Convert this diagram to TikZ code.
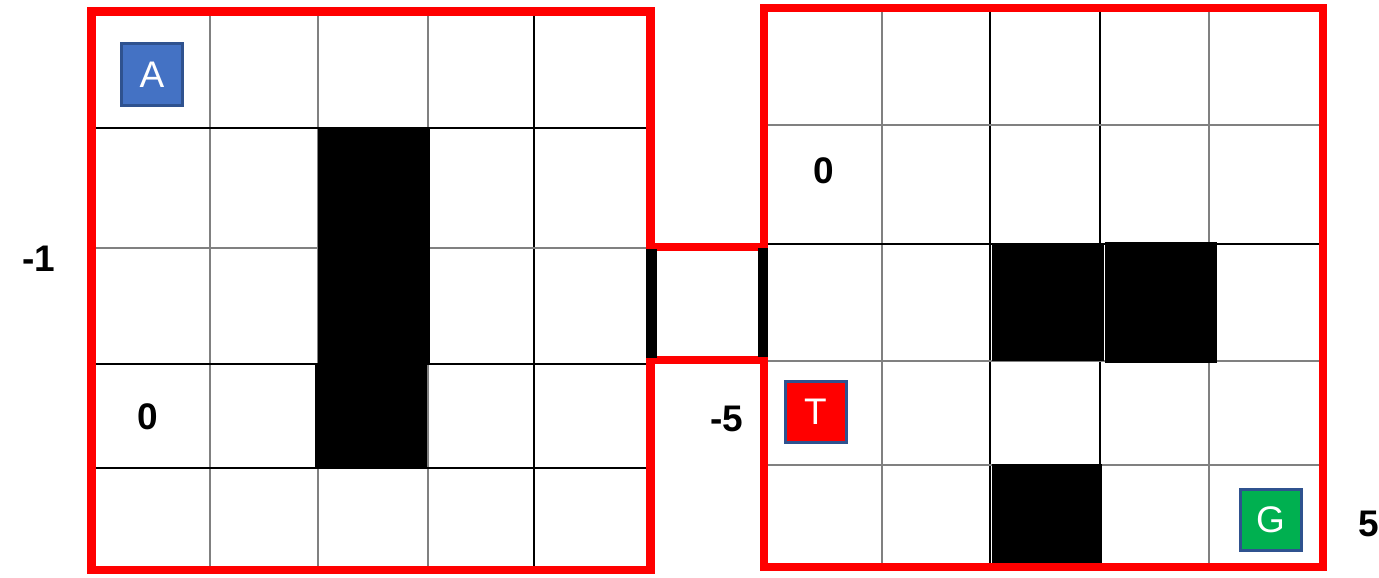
\documentclass[tikz,border=0pt]{standalone}
\usepackage{fontspec}
\setmainfont{Liberation Sans}
\definecolor{wallred}{HTML}{FF0000}
\definecolor{agentblue}{HTML}{4472C4}
\definecolor{edgeblue}{HTML}{2F528F}
\definecolor{goalgreen}{HTML}{00B050}
\begin{document}
\begin{tikzpicture}[x=1pt,y=-1pt,
  gline/.style={draw=black!50,line width=1.3pt},
  bline/.style={draw=black,line width=1.2pt},
  redwall/.style={draw=wallred,line width=8.5pt,line join=miter},
  block/.style={fill=black},
  bar/.style={fill=black},
  tagbox/.style={draw=edgeblue,line width=3pt,minimum width=61pt,minimum height=61pt,inner sep=0pt,text=white,font=\fontsize{37}{37}\selectfont},
  num/.style={inner sep=0pt,font=\bfseries\fontsize{37}{37}\selectfont}]
\useasboundingbox (0,0) rectangle (1379,578);
\fill[white] (0,0) rectangle (1379,578);
% left grid lines
\draw[gline] (210,11.5) -- (210,570);
\draw[gline] (318,11.5) -- (318,570);
\draw[gline] (428,11.5) -- (428,570);
\draw[bline] (534,11.5) -- (534,570);
\draw[bline] (91.5,128) -- (650.5,128);
\draw[gline] (91.5,248) -- (650.5,248);
\draw[bline] (91.5,364) -- (650.5,364);
\draw[bline] (91.5,468) -- (650.5,468);
% right grid lines
\draw[gline] (882,8) -- (882,567);
\draw[bline] (990,8) -- (990,567);
\draw[bline] (1100,8) -- (1100,567);
\draw[gline] (1209,8) -- (1209,567);
\draw[gline] (764,125) -- (1323,125);
\draw[bline] (764,244) -- (1323,244);
\draw[gline] (764,361) -- (1323,361);
\draw[gline] (764,465) -- (1323,465);
% obstacles
\fill[block] (318,128) rectangle (430,364);
\fill[block] (315,364) rectangle (427,467);
\fill[block] (992,244) rectangle (1104,361);
\fill[block] (1105,242) rectangle (1217,363);
\fill[block] (992,464) rectangle (1102,567);
% red walls
\draw[redwall] (91.5,11.5) rectangle (650.5,570);
\draw[redwall] (764,8) rectangle (1323,567);
\draw[redwall] (650.5,247) -- (764,247);
\draw[redwall] (650.5,360) -- (764,360);
% door bars
\fill[bar] (646,249) rectangle (657,358);
\fill[bar] (758,248) rectangle (768,357);
% agent, trap, goal
\node[tagbox,fill=agentblue] (agent) at (152,74.5) {A};
\node[tagbox,fill=wallred] (trap) at (815.5,411.5) {T};
\node[tagbox,fill=goalgreen] (goal) at (1270.5,520) {G};
% rewards
\node[num] (rleft) at (38.5,259) {-1};
\node[num] (zleft) at (148,416.5) {0};
\node[num] (zright) at (823.5,171) {0};
\node[num] (rtrap) at (727,418.5) {-5};
\node[num] (rgoal) at (1368.5,523.5) {5};
\end{tikzpicture}
\end{document}
